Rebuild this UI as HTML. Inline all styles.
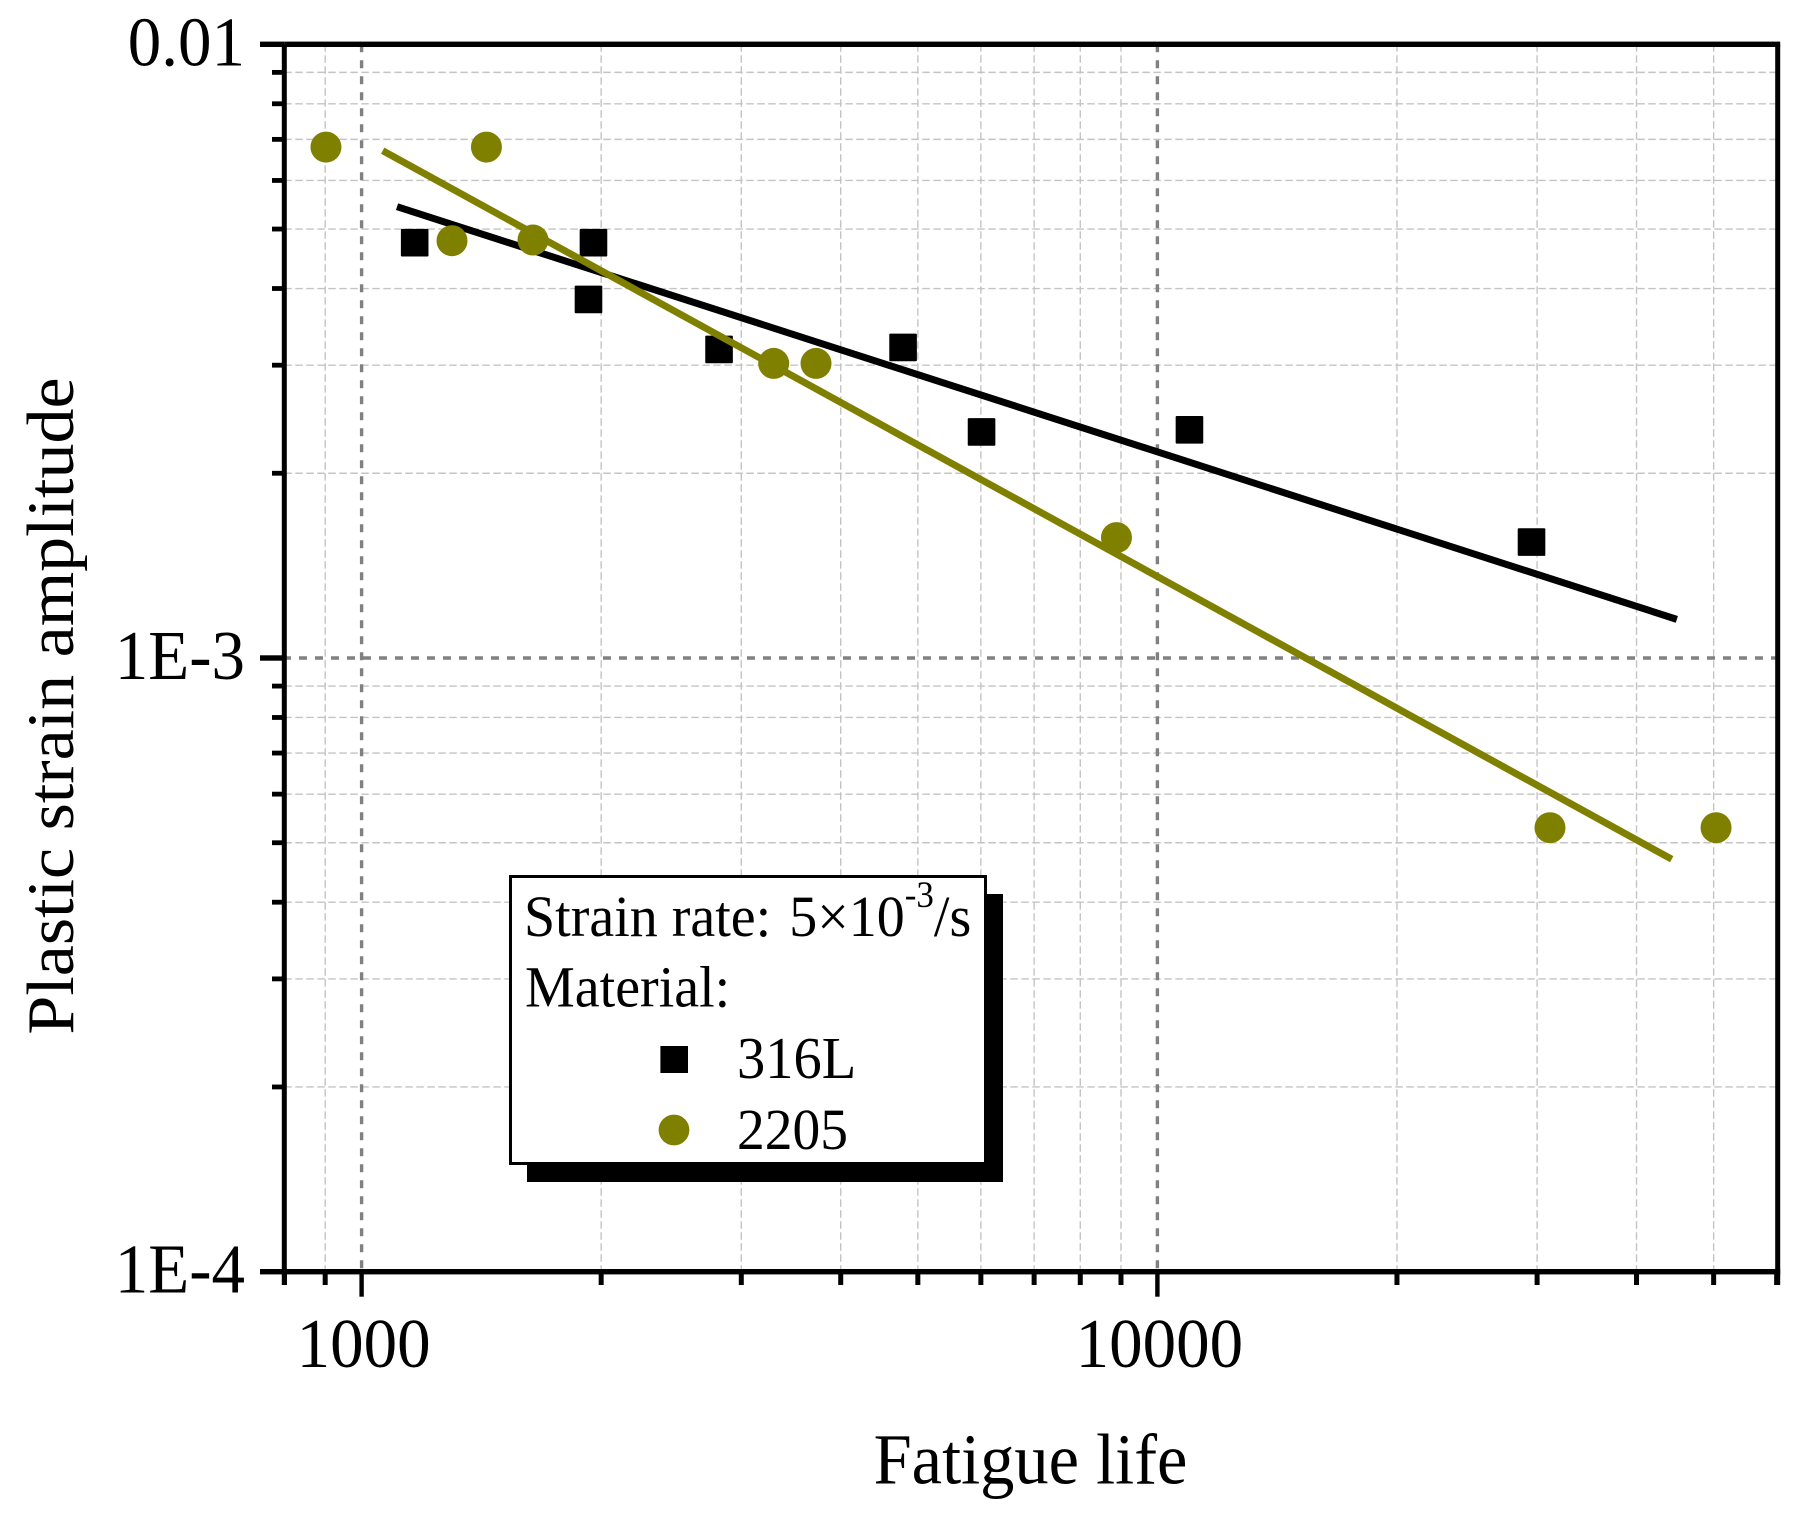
<!DOCTYPE html>
<html lang="en">
<head>
<meta charset="utf-8">
<title>Plastic strain amplitude vs fatigue life</title>
<style>
html,body{margin:0;padding:0;background:#fff;width:1805px;height:1518px;overflow:hidden}
svg{display:block}
text{font-family:"Liberation Serif",serif;fill:#000;white-space:pre}
</style>
</head>
<body>
<svg id="chart" xmlns="http://www.w3.org/2000/svg" width="1805" height="1518" viewBox="0 0 1805 1518">
  <rect x="0" y="0" width="1805" height="1518" fill="#fff"/>
  <g id="grid"></g>
  <g id="series"></g>
  <g id="axes"></g>
  <text font-size="67" text-anchor="middle" transform="translate(73 706) scale(1 1.045) rotate(-90)">Plastic strain amplitude</text>
  <text font-size="68.5" text-anchor="middle" transform="translate(1030.5 1483.3) scale(1 1.045)">Fatigue life</text>
  <g>
    <rect x="527" y="894" width="476" height="288" fill="#000"/>
    <rect x="510.5" y="876.5" width="475" height="287" fill="#fff" stroke="#000" stroke-width="3"/>
    <text font-size="56" transform="translate(524 936) scale(1 1.045)">Strain rate:<tspan dx="4"> 5×10</tspan><tspan font-size="35" dy="-28">-3</tspan><tspan dy="28">/s</tspan></text>
    <text font-size="56" transform="translate(525 1006.7) scale(1 1.045)">Material:</text>
    <rect x="660.4" y="1046" width="27.6" height="27" fill="#000"/>
    <text font-size="56.5" transform="translate(737 1078) scale(1 1.045)">316L</text>
    <circle cx="674" cy="1130" r="15.4" fill="#808000"/>
    <text font-size="55.5" transform="translate(737 1149) scale(1 1.045)">2205</text>
  </g>
</svg>
<script>
var xMajorTicks = [1000, 10000];
var xMajorLabels = ['1000', '10000'];
var xMinorTicks = [800, 900, 2000, 3000, 4000, 5000, 6000, 7000, 8000, 9000, 20000, 30000, 40000, 50000, 60000];
var yMajorTicks = [0.01, 0.001, 0.0001];
var yMajorLabels = ['0.01', '1E-3', '1E-4'];
var yMinorTicks = [0.009, 0.008, 0.007, 0.006, 0.005, 0.004, 0.003, 0.002, 0.0009, 0.0008, 0.0007, 0.0006, 0.0005, 0.0004, 0.0003, 0.0002];

var life316L = [1166, 1956, 1928, 2813, 4791, 6012, 10972, 29520];
var strain316L = [0.00475, 0.00475, 0.003839, 0.003183, 0.003207, 0.002335, 0.002354, 0.001545];
var life2205 = [902, 1435, 1299, 1642, 3295, 3724, 8883, 31140, 50350];
var strain2205 = [0.0068, 0.0068, 0.004786, 0.004798, 0.00302, 0.00302, 0.001571, 0.000529, 0.000529];

var fitLife316L = [1108, 44950];
var fitStrain316L = [0.005437, 0.001156];
var fitLife2205 = [1063, 44290];
var fitStrain2205 = [0.00671, 0.00047];

var NS = 'http://www.w3.org/2000/svg';
var PLOT = {left: 284.3, right: 1777.7, top: 44.3, bottom: 1271.7, x1000: 361.6, xDecade: 795.8, yDecade: 613.7};
function xScale(v) { return PLOT.x1000 + (Math.log10(v) - 3) * PLOT.xDecade; }
function yScale(v) { return PLOT.top + (-2 - Math.log10(v)) * PLOT.yDecade; }

function make(tag, attrs, parent) {
  var el = document.createElementNS(NS, tag);
  for (var k in attrs) { el.setAttribute(k, attrs[k]); }
  parent.appendChild(el);
  return el;
}

var gridG = document.getElementById('grid');
var seriesG = document.getElementById('series');
var axesG = document.getElementById('axes');
var MINOR_STYLE = {stroke: '#c4c4c4', 'stroke-width': 1.4, 'stroke-dasharray': '7.5 3.5', fill: 'none'};
var MAJOR_STYLE = {stroke: '#808080', 'stroke-width': 3.4, 'stroke-dasharray': '8 8', fill: 'none'};

function gridLine(x1, y1, x2, y2, style) {
  var attrs = {x1: x1, y1: y1, x2: x2, y2: y2};
  for (var k in style) { attrs[k] = style[k]; }
  return make('line', attrs, gridG);
}

xMinorTicks.forEach(function (v) {
  if (v === 800 || v === 60000) { return; }
  var p = xScale(v);
  var el = gridLine(p, PLOT.top, p, PLOT.bottom, MINOR_STYLE);
  
  
});
yMinorTicks.forEach(function (v) {
  var p = yScale(v);
  var el = gridLine(PLOT.left, p, PLOT.right, p, MINOR_STYLE);
  
  
});
xMajorTicks.forEach(function (v) {
  var p = xScale(v);
  var el = gridLine(p, PLOT.top, p, PLOT.bottom, MAJOR_STYLE);
  
  
});
yMajorTicks.slice(1, 2).forEach(function (v) {
  var p = yScale(v);
  var el = gridLine(283, p, PLOT.right, p, MAJOR_STYLE);
  
  
});

function drawSquares(xs, ys) {
  xs.forEach(function (v, i) {
    var el = make('rect', {x: xScale(v) - 13.8, y: yScale(ys[i]) - 13.8, width: 27.6, height: 27.6, rx: 1, fill: '#000'}, seriesG);
    
    
  });
}
function drawCircles(xs, ys) {
  xs.forEach(function (v, i) {
    var el = make('circle', {cx: xScale(v), cy: yScale(ys[i]), r: 15.5, fill: '#808000'}, seriesG);
    
    
  });
}
function drawFit(xs, ys, color) {
  var pts = xs.map(function (v, i) { return xScale(v) + ',' + yScale(ys[i]); }).join(' ');
  return make('polyline', {points: pts, fill: 'none', stroke: color, 'stroke-width': 7}, seriesG);
}

drawSquares(life316L, strain316L);
var fitBlack = drawFit(fitLife316L, fitStrain316L, '#000');


var fitOlive = drawFit(fitLife2205, fitStrain2205, '#808000');


drawCircles(life2205, strain2205);

function axisRect(x, y, w, h) {
  return make('rect', {x: x, y: y, width: w, height: h, fill: '#000'}, axesG);
}

var leftAxis = axisRect(PLOT.left - 2.5, PLOT.top, 5, PLOT.bottom - PLOT.top + 13.3);


var rightAxis = axisRect(PLOT.right - 2.5, PLOT.top, 5, PLOT.bottom - PLOT.top + 13.3);


var topAxis = axisRect(PLOT.left, PLOT.top - 2.7, PLOT.right - PLOT.left + 2.5, 5.4);


var bottomAxis = axisRect(PLOT.left, PLOT.bottom - 2.7, PLOT.right - PLOT.left + 2.5, 5.4);



xMinorTicks.forEach(function (v) {
  var el = axisRect(xScale(v) - 2.5, PLOT.bottom, 5, 13.3);
  
  
});
xMajorTicks.forEach(function (v) {
  var el = axisRect(xScale(v) - 2.2, PLOT.bottom, 4.4, 25);
  
  
});
yMinorTicks.forEach(function (v) {
  var el = axisRect(272, yScale(v) - 2.4, 12.3, 4.8);
  
  
});
yMajorTicks.forEach(function (v) {
  var el = axisRect(260, yScale(v) - 2.7, 24.3, 5.4);
  
  
});

function label(str, x, y, anchor) {
  var el = make('text', {'font-size': 67, 'text-anchor': anchor, transform: 'translate(' + x + ' ' + y + ') scale(1 1.045)'}, axesG);
  el.textContent = str;
  return el;
}
xMajorTicks.forEach(function (v, i) {
  var el = label(xMajorLabels[i], xScale(v) + 2, PLOT.bottom + 95.4, 'middle');
  
  
});
yMajorTicks.forEach(function (v, i) {
  var el = label(yMajorLabels[i], 245, yScale(v) + 21, 'end');
  
  
});
</script>
</body>
</html>
